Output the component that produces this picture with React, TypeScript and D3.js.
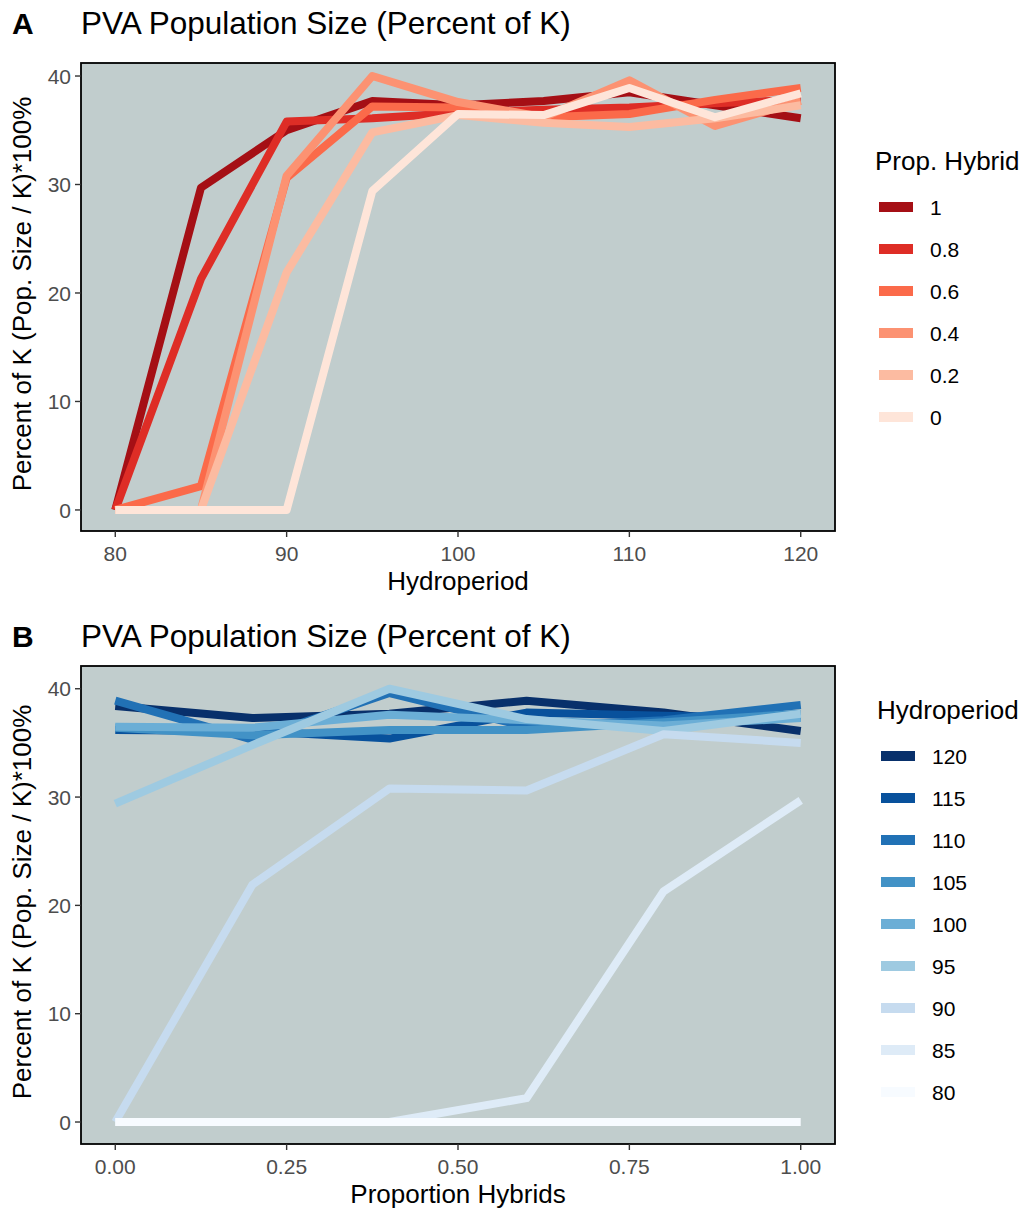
import React from "react";
import * as d3 from "d3";

// Hydroperiod levels and hybrid proportions of the simulated populations
const hydroperiods = [80, 85, 90, 95, 100, 105, 110, 115, 120];
const propHybrids = [0, 0.2, 0.4, 0.6, 0.8, 1];

// Population size as percent of K; one array per hydroperiod, ordered as propHybrids
const pctH80 = [0, 0, 0, 0, 0, 0];
const pctH85 = [0, 0, 0, 2.2, 21.3, 29.7];
const pctH90 = [0, 21.9, 30.8, 30.6, 35.8, 35.0];
const pctH95 = [29.4, 34.8, 40.0, 37.2, 36.1, 37.7];
const pctH100 = [36.5, 36.4, 37.6, 37.1, 36.6, 37.3];
const pctH105 = [36.4, 35.7, 36.2, 36.2, 36.9, 37.7];
const pctH110 = [38.9, 35.3, 39.6, 36.5, 37.1, 38.5];
const pctH115 = [36.2, 36.1, 35.4, 37.8, 37.5, 37.3];
const pctH120 = [38.4, 37.3, 37.7, 38.9, 37.8, 36.1];
const pctByHydroperiod = [pctH80, pctH85, pctH90, pctH95, pctH100, pctH105, pctH110, pctH115, pctH120];

const xTicksA = [80, 90, 100, 110, 120];
const xTicksB = [0, 0.25, 0.5, 0.75, 1];
const yTicks = [0, 10, 20, 30, 40];

// Brewer palettes: Reds for hybrid proportion, Blues for hydroperiod
const redsByProp = ["#fee5d9", "#fcbba1", "#fc9272", "#fb6a4a", "#de2d26", "#a50f15"];
const bluesByHydro = ["#f7fbff", "#deebf7", "#c6dbef", "#9ecae1", "#6baed6", "#4292c6", "#2171b5", "#08519c", "#08306b"];

const FONT = "'Liberation Sans', Arial, Helvetica, sans-serif";

type Series = { label: string; color: string; points: [number, number][] };

type PanelProps = {
  tag: string;
  offsetY: number;
  title: string;
  xDomain: [number, number];
  yDomain: [number, number];
  panelTop: number;
  xTicks: number[];
  xFormat: (v: number) => string;
  xTitle: string;
  legendTitle: string;
  legendTitleX: number;
  legendKeyX: number;
  legendFirstY: number;
  series: Series[]; // draw order
  legendOrder: Series[];
};

const left = 81;
const right = 835;
const bottom = 531;

function Panel(p: PanelProps) {
  const x = d3.scaleLinear().domain(p.xDomain).range([left, right]);
  const y = d3.scaleLinear().domain(p.yDomain).range([bottom, p.panelTop]);
  const line = d3
    .line<[number, number]>()
    .x((d) => x(d[0]))
    .y((d) => y(d[1]));
  const midY = (p.panelTop + bottom) / 2;
  const legendStep = 42;
  return (
    <g transform={`translate(0,${p.offsetY})`}>
      <text x={12} y={34} fontFamily={FONT} fontWeight="bold" fontSize={30}>
        {p.tag}
      </text>
      <text x={81} y={34} fontFamily={FONT} fontSize={31.5}>
        {p.title}
      </text>
      <rect x={left} y={p.panelTop} width={right - left} height={bottom - p.panelTop} fill="#C1CDCD" />
      <g>
        {p.series.map((s) => (
          <path
            key={s.label}
            d={line(s.points) || ""}
            fill="none"
            stroke={s.color}
            strokeWidth={8}
            strokeLinejoin="round"
            strokeLinecap="butt"
          />
        ))}
      </g>
      <rect
        x={left}
        y={p.panelTop}
        width={right - left}
        height={bottom - p.panelTop}
        fill="none"
        stroke="#000"
        strokeWidth={1.8}
      />
      {yTicks.map((t) => (
        <g key={`y${t}`}>
          <line x1={left - 6} x2={left} y1={y(t)} y2={y(t)} stroke="#333" strokeWidth={1.4} />
          <text
            x={left - 10}
            y={y(t)}
            dy="0.36em"
            textAnchor="end"
            fontFamily={FONT}
            fontSize={21}
            fill="#4d4d4d"
          >
            {t}
          </text>
        </g>
      ))}
      {p.xTicks.map((t) => (
        <g key={`x${t}`}>
          <line x1={x(t)} x2={x(t)} y1={bottom} y2={bottom + 6} stroke="#333" strokeWidth={1.4} />
          <text
            x={x(t)}
            y={bottom + 22}
            dy="0.36em"
            textAnchor="middle"
            fontFamily={FONT}
            fontSize={21}
            fill="#4d4d4d"
          >
            {p.xFormat(t)}
          </text>
        </g>
      ))}
      <text x={(left + right) / 2} y={590} textAnchor="middle" fontFamily={FONT} fontSize={26}>
        {p.xTitle}
      </text>
      <text
        transform={`translate(31,${midY - 3}) rotate(-90)`}
        textAnchor="middle"
        fontFamily={FONT}
        fontSize={26}
      >
        Percent of K (Pop. Size / K)*100%
      </text>
      <text x={p.legendTitleX} y={p.legendFirstY - 37} fontFamily={FONT} fontSize={26}>
        {p.legendTitle}
      </text>
      {p.legendOrder.map((s, i) => {
        const cy = p.legendFirstY + i * legendStep;
        return (
          <g key={`lg${s.label}`}>
            <rect x={p.legendKeyX} y={cy - 5} width={34} height={10} fill={s.color} />
            <text
              x={p.legendKeyX + 51}
              y={cy}
              dy="0.36em"
              fontFamily={FONT}
              fontSize={21}
              fill="#000"
            >
              {s.label}
            </text>
          </g>
        );
      })}
    </g>
  );
}

export default function App() {
  // Panel A: one line per hybrid proportion across hydroperiods
  const seriesA: Series[] = propHybrids.map((ph, j) => ({
    label: String(ph),
    color: redsByProp[j],
    points: hydroperiods.map((h, i) => [h, pctByHydroperiod[i][j]] as [number, number]),
  }));
  // Panel B: one line per hydroperiod across hybrid proportions
  const seriesB: Series[] = hydroperiods.map((h, i) => ({
    label: String(h),
    color: bluesByHydro[i],
    points: propHybrids.map((ph, j) => [ph, pctByHydroperiod[i][j]] as [number, number]),
  }));
  const drawA = [...seriesA].reverse();
  const drawB = [...seriesB].reverse();
  const fmtB = (v: number) => v.toFixed(2);
  return (
    <svg
      width={1025}
      height={1208}
      viewBox="0 0 1025 1208"
      style={{ position: "fixed", left: 0, top: 0, display: "block", background: "#fff" }}
    >
      <Panel
        tag="A"
        offsetY={0}
        title="PVA Population Size (Percent of K)"
        xDomain={[78, 122]}
        yDomain={[-1.94, 41.2]}
        panelTop={63}
        xTicks={xTicksA}
        xFormat={(v) => String(v)}
        xTitle="Hydroperiod"
        legendTitle="Prop. Hybrid"
        legendTitleX={875}
        legendKeyX={879}
        legendFirstY={207}
        series={drawA}
        legendOrder={drawA}
      />
      <Panel
        tag="B"
        offsetY={613}
        title="PVA Population Size (Percent of K)"
        xDomain={[-0.05, 1.05]}
        yDomain={[-2.03, 42.1]}
        panelTop={53}
        xTicks={xTicksB}
        xFormat={fmtB}
        xTitle="Proportion Hybrids"
        legendTitle="Hydroperiod"
        legendTitleX={877}
        legendKeyX={881}
        legendFirstY={143}
        series={drawB}
        legendOrder={drawB}
      />
    </svg>
  );
}
